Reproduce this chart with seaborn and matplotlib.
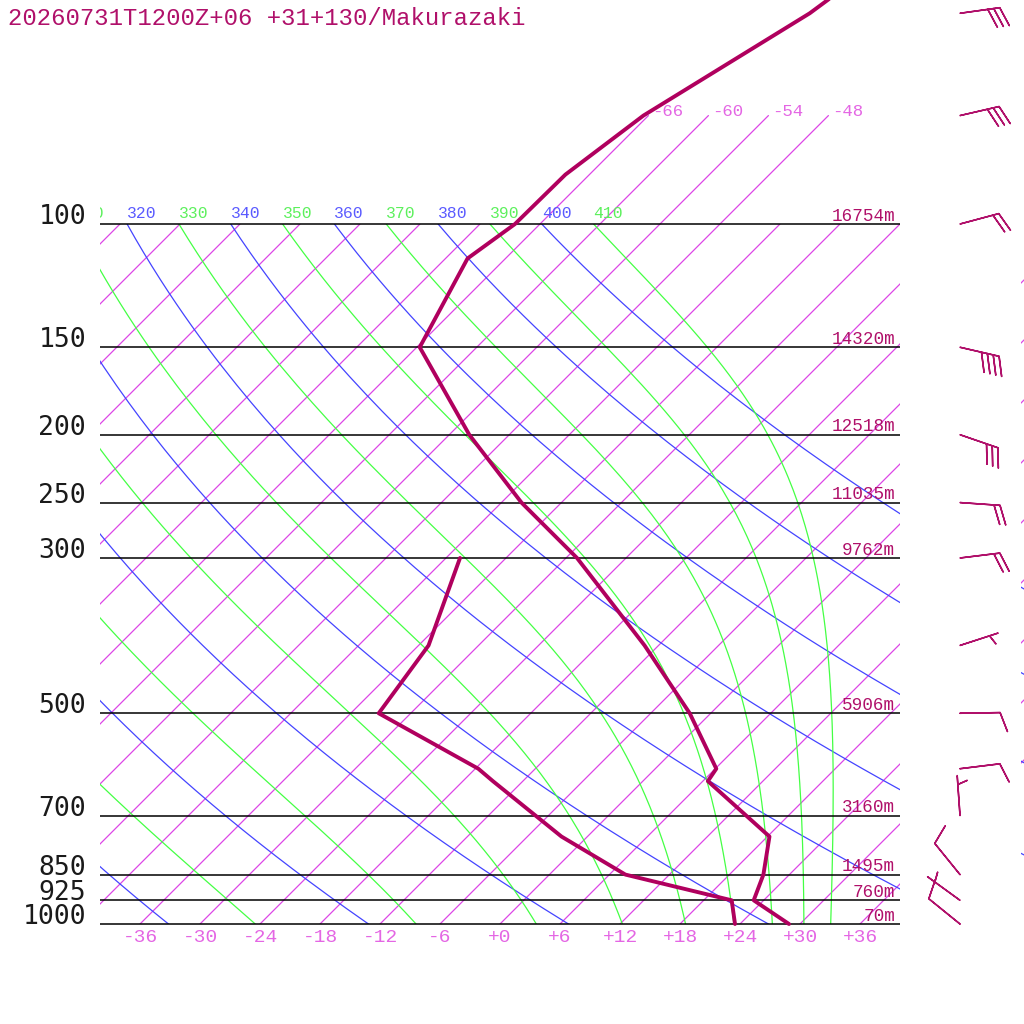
import numpy as np
import pandas as pd
import matplotlib
matplotlib.use("Agg")
import matplotlib.pyplot as plt
import matplotlib.transforms as mtransforms
import seaborn as sns

TITLE = "20260731T1200Z+06 +31+130/Makurazaki"

# sounding: temperature profile (hPa, degC)
TEMP_LEVELS = [1000, 925, 850, 750, 625, 600, 500, 400, 300, 250, 200, 150, 112, 100, 85, 70, 50, 40]
TEMP = [28.9, 23.0, 21.4, 18.2, 6.5, 6.1, -2.1, -13.4, -28.9, -40.0, -52.0, -65.7, -69.8, -68.5, -68.4, -66.5, -60.1, -57.7]

# dewpoint profile
DEW_LEVELS = [1000, 925, 850, 750, 625, 600, 500, 400, 300]
DEW = [23.5, 20.8, 7.6, -2.6, -15.0, -17.7, -33.2, -35.0, -40.6]

# winds (direction from, knots)
WIND_LEVELS = [50, 70, 100, 150, 200, 250, 300, 400, 500, 600, 700, 850, 925, 1000]
WIND_DIR = [82, 77, 75, 103, 109, 94, 83, 72, 89, 83, 356, 321, 306, 309]
WIND_SPD = [30, 30, 20, 40, 30, 20, 20, 5, 10, 10, 5, 10, 5, 10]

# standard levels with geopotential heights
STD_LEVELS = [100, 150, 200, 250, 300, 500, 700, 850, 925, 1000]
HEIGHTS = ["16754m", "14320m", "12518m", "11035m", "9762m", "5906m", "3160m", "1495m", "760m", "70m"]

# background lines
ISOTHERMS = list(range(-120, 37, 6))
ISO_TICKS = list(range(-36, 37, 6))
ISO_TOP = [-66, -60, -54, -48]
DRY_THETA = list(range(240, 401, 20))
MOIST_THETA = list(range(250, 411, 20))

PROFILE_COLOR = "#b0005e"
TEXT_COLOR = "#b0106a"
ISO_COLOR = "#dc46e6"
ISO_LABEL = "#e466e4"
BLUE = "#4444ff"
GREEN = "#44ff44"

SKEW = 70.0
RD, CP, LV, EPS = 287.04, 1005.7, 2.501e6, 0.622
KAPPA = RD / CP


def skew_x(t, p):
    return np.asarray(t, float) + SKEW * np.log10(1000.0 / np.asarray(p, float))


def sat_mix(t_k, p):
    tc = t_k - 273.15
    es = 6.112 * np.exp(17.67 * tc / (tc + 243.5))
    return EPS * es / (p - es)


def moist_lapse(t_k, p):
    rs = sat_mix(t_k, p)
    return (RD * t_k + LV * rs) / (p * (CP + LV * LV * rs * EPS / (RD * t_k * t_k)))


def moist_adiabat(theta, p_grid):
    t = theta * (p_grid[0] / 1000.0) ** KAPPA
    out = [t]
    for p0, p1 in zip(p_grid[:-1], p_grid[1:]):
        h = p1 - p0
        k1 = moist_lapse(t, p0)
        k2 = moist_lapse(t + h / 2 * k1, p0 + h / 2)
        k3 = moist_lapse(t + h / 2 * k2, p0 + h / 2)
        k4 = moist_lapse(t + h * k3, p1)
        t = t + h / 6 * (k1 + 2 * k2 + 2 * k3 + k4)
        out.append(t)
    return np.array(out) - 273.15


def draw_grid_lines(axis, moist=True):
    for t in ISOTHERMS:
        axis.plot(skew_x([t, t], [1000, 100]), [1000, 100], color=ISO_COLOR, lw=0.9)
    for th in DRY_THETA:
        tt = th * (p_grid / 1000.0) ** KAPPA - 273.15
        axis.plot(skew_x(tt, p_grid), p_grid, color=BLUE, lw=0.9)
    if moist:
        for th in MOIST_THETA:
            axis.plot(skew_x(moist_adiabat(th, p_grid), p_grid), p_grid, color=GREEN, lw=0.9)


sns.set_style("white")
plt.rcParams["font.family"] = ["Liberation Mono", "DejaVu Sans Mono"]

fig = plt.figure(figsize=(10.24, 10.24), dpi=100)
ax = fig.add_axes([100 / 1024, 100 / 1024, 800 / 1024, 700 / 1024])
ax.set_yscale("log")

p_grid = np.linspace(100, 1000, 181)

draw_grid_lines(ax)

# isotherms continued above 100 hPa
for t in ISO_TOP:
    ax.plot(skew_x([t, t], [100, 70]), [100, 70], color=ISO_COLOR, lw=0.9, clip_on=False)
    ax.annotate(f"{t:+d}", xy=(skew_x(t, 70), 70), xytext=(2.5, 0), textcoords="offset points",
                ha="left", va="baseline", fontsize=12.5, color=ISO_LABEL, annotation_clip=False)

# adiabat labels along the 100 hPa line, clipped to the diagram width
label_clip = mtransforms.TransformedBbox(
    mtransforms.Bbox.from_extents(100 / 1024, 0, 900 / 1024, 1), fig.transFigure)
labels = [(th, th * 0.1 ** KAPPA - 273.15, "#5a5aff") for th in DRY_THETA]
labels += [(th, moist_adiabat(th, p_grid)[0], "#5cf05c") for th in MOIST_THETA]
for th, t100, col in labels:
    x0 = float(skew_x(t100, 100))
    if x0 < -44:
        continue
    txt = ax.annotate(str(th), xy=(x0, 100), xytext=(0, 4.5), textcoords="offset points",
                      ha="left", va="baseline", fontsize=11.8, color=col,
                      annotation_clip=False)
    txt.set_clip_box(label_clip)
    txt.set_clip_on(True)

# pressure lines and labels
ax.hlines(STD_LEVELS, -40, 40, color="black", lw=1.1, clip_on=False)
for p, h in zip(STD_LEVELS, HEIGHTS):
    ax.annotate(str(p), xy=(-40, p), xytext=(-10, 0), textcoords="offset points",
                ha="right", va="baseline", fontsize=19, color="#1a1a1a",
                family="DejaVu Sans Mono", annotation_clip=False)
    ax.annotate(h, xy=(40, p), xytext=(-3.5, 2.5), textcoords="offset points",
                ha="right", va="baseline", fontsize=12.7, color=TEXT_COLOR,
                annotation_clip=False)

for t in ISO_TICKS:
    ax.annotate(f"{t:+d}", xy=(t, 1000), xytext=(0, -13), textcoords="offset points",
                ha="center", va="baseline", fontsize=14, color=ISO_LABEL,
                annotation_clip=False)

# sounding profiles
temp_df = pd.DataFrame({"p": TEMP_LEVELS, "x": skew_x(TEMP, TEMP_LEVELS)})
dew_df = pd.DataFrame({"p": DEW_LEVELS, "x": skew_x(DEW, DEW_LEVELS)})
for d in (temp_df, dew_df):
    sns.lineplot(data=d, x="x", y="p", sort=False, estimator=None, color=PROFILE_COLOR,
                 lw=2.8, ax=ax, clip_on=False)

# wind barbs
wdir = np.deg2rad(WIND_DIR)
spd = np.asarray(WIND_SPD, float)
u = -spd * np.sin(wdir)
v = -spd * np.cos(wdir)
ax.barbs(np.full(len(WIND_LEVELS), 46.0), WIND_LEVELS, u, v, length=7.6,
         sizes=dict(height=0.475, width=0.35, spacing=0.15, emptybarb=0.1),
         color=TEXT_COLOR, lw=1.1, clip_on=False)

ax.set_xlim(-40, 40)
ax.set_ylim(1000, 100)
ax.axis("off")

# sliver of the neighbouring diagram at the right edge
edge = fig.add_axes([1021 / 1024, 100 / 1024, 3 / 1024, 700 / 1024])
edge.set_yscale("log")
draw_grid_lines(edge, moist=False)
edge.set_xlim(52.1, 52.4)
edge.set_ylim(1000, 100)
edge.axis("off")

fig.text(8 / 1024, 1 - 25 / 1024, TITLE, ha="left", va="baseline", fontsize=17.2,
         color=TEXT_COLOR)

fig.savefig("out.png", dpi=100, facecolor="white")
